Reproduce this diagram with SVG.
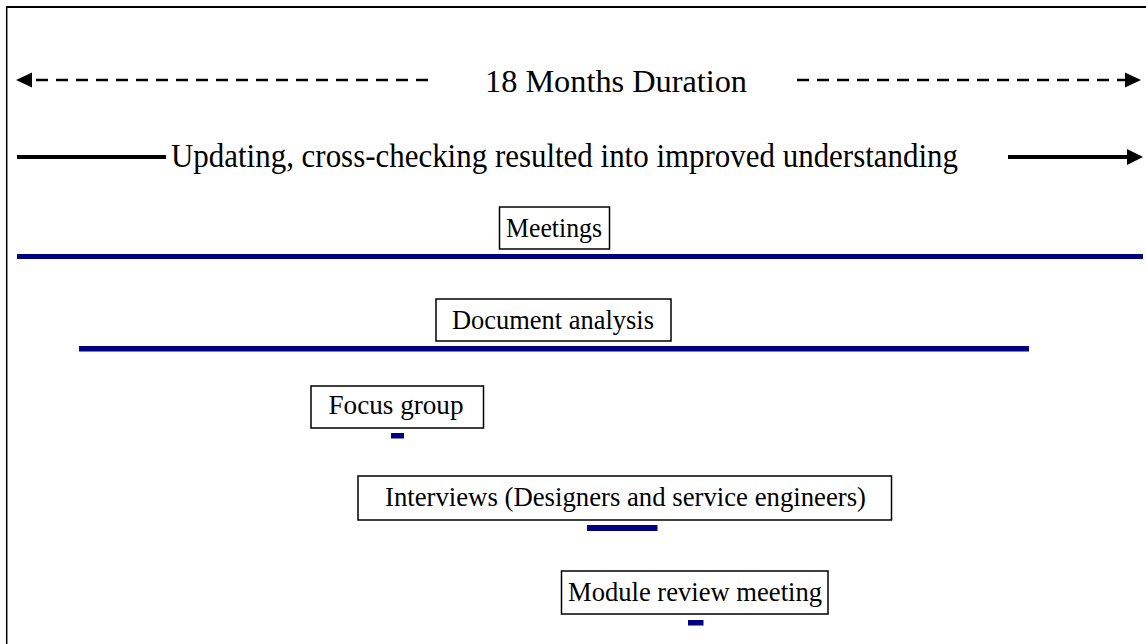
<svg xmlns="http://www.w3.org/2000/svg" width="1146" height="644" viewBox="0 0 1146 644">
<style>
text{font-family:"Liberation Serif","Times New Roman",serif;fill:#000}
.box{fill:#fff;stroke:#000;stroke-width:1.5}
.lbl{font-size:28px}
.bar{fill:#000080}
.dash{stroke:#000;stroke-width:2.5;stroke-dasharray:12 8;fill:none}
.solid{stroke:#000;stroke-width:4;fill:none}
.head{fill:#000}
</style>
<rect x="0" y="0" width="1146" height="644" fill="#fff"/>
<g id="frame">
<line x1="6.5" y1="7" x2="1146" y2="7" stroke="#000" stroke-width="2"/>
<line x1="6.7" y1="6" x2="6.7" y2="644" stroke="#000" stroke-width="1.5"/>
</g>
<g id="connectors">
<line class="dash" x1="36" y1="80" x2="436" y2="80"/>
<polygon class="head" points="16,80 32,72.5 32,87.5"/>
<line class="dash" x1="797" y1="80" x2="1125" y2="80"/>
<polygon class="head" points="1141,80 1125,72.5 1125,87.5"/>
<line class="solid" x1="17" y1="157" x2="166" y2="157"/>
<line class="solid" x1="1008" y1="157" x2="1128" y2="157"/>
<polygon class="head" points="1143,157 1127,149 1127,165"/>
</g>
<g id="title-duration">
<text x="485" y="92" font-size="32" textLength="262" lengthAdjust="spacingAndGlyphs">18 Months Duration</text>
</g>
<g id="title-updating">
<text x="171" y="167" font-size="33" textLength="787" lengthAdjust="spacingAndGlyphs">Updating, cross-checking resulted into improved understanding</text>
</g>
<g id="meetings">
<rect class="box" x="499.5" y="207" width="110" height="42"/>
<text class="lbl" x="506" y="237" textLength="96" lengthAdjust="spacingAndGlyphs">Meetings</text>
<rect class="bar" x="17" y="254" width="1126" height="5"/>
</g>
<g id="document-analysis">
<rect class="box" x="436" y="299" width="235" height="42"/>
<text class="lbl" x="452" y="328.5" textLength="202" lengthAdjust="spacingAndGlyphs">Document analysis</text>
<rect class="bar" x="79" y="346" width="950" height="5.5"/>
</g>
<g id="focus-group">
<rect class="box" x="311" y="386" width="172.5" height="42"/>
<text class="lbl" x="328.5" y="413.5" textLength="135" lengthAdjust="spacingAndGlyphs">Focus group</text>
<rect class="bar" x="391" y="433" width="13" height="5.5"/>
</g>
<g id="interviews">
<rect class="box" x="358" y="476" width="533.5" height="44"/>
<text class="lbl" x="385" y="505.5" textLength="481" lengthAdjust="spacingAndGlyphs">Interviews (Designers and service engineers)</text>
<rect class="bar" x="587" y="525" width="70.5" height="6"/>
</g>
<g id="module-review">
<rect class="box" x="561.5" y="571" width="266.5" height="43"/>
<text class="lbl" x="568" y="600.5" textLength="254" lengthAdjust="spacingAndGlyphs">Module review meeting</text>
<rect class="bar" x="688" y="620" width="15.5" height="5.5"/>
</g>
</svg>
